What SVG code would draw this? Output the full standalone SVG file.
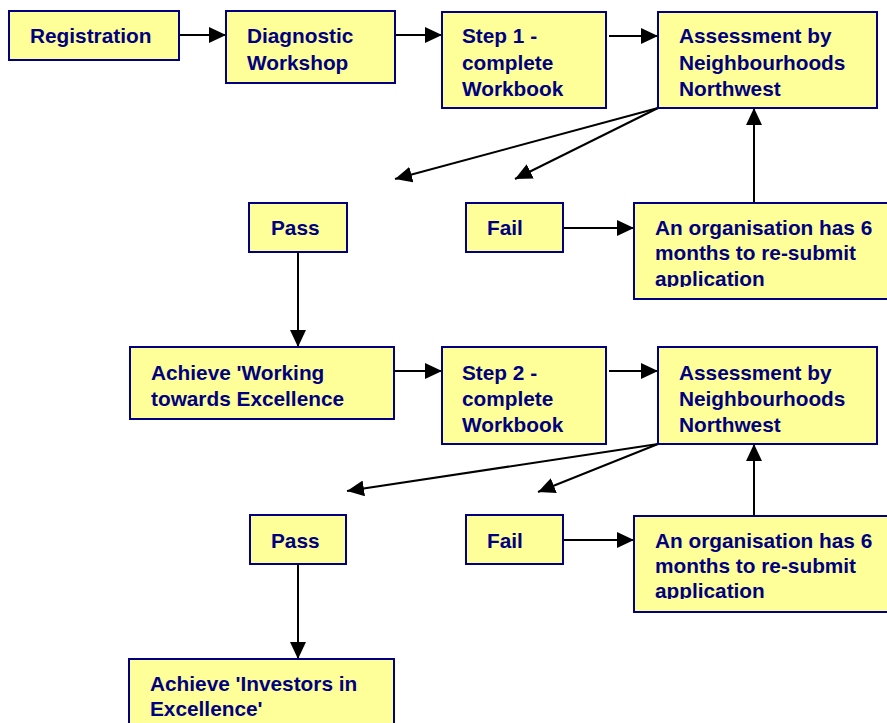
<svg xmlns="http://www.w3.org/2000/svg" width="887" height="723" viewBox="0 0 887 723">
  <style>
    .box { fill: #FFFF99; stroke: #000080; stroke-width: 2; }
    .lbl { font-family: "Liberation Sans", Arial, sans-serif; font-weight: bold; font-size: 20.8px; fill: #000080; }
    .wire { stroke: #000000; stroke-width: 2; fill: none; marker-end: url(#head); }
  </style>
  <defs>
    <marker id="head" markerUnits="userSpaceOnUse" markerWidth="17" markerHeight="16" refX="17" refY="8" orient="auto">
      <path d="M0,0 L17,8 L0,16 Z" fill="#000000"/>
    </marker>
    <clipPath id="clipResub1"><rect x="634" y="203" width="270" height="84"/></clipPath>
    <clipPath id="clipResub2"><rect x="634" y="516" width="270" height="83"/></clipPath>
  </defs>
  <rect x="0" y="0" width="887" height="723" fill="#FFFFFF"/>

  <!-- connectors -->
  <g id="connectors">
    <line class="wire" x1="179" y1="35" x2="226" y2="35"/>
    <line class="wire" x1="395" y1="35" x2="442" y2="35"/>
    <line class="wire" x1="609" y1="36" x2="658" y2="36"/>
    <line class="wire" x1="658" y1="108" x2="395" y2="179"/>
    <line class="wire" x1="658" y1="108" x2="515" y2="179"/>
    <line class="wire" x1="754" y1="203" x2="754" y2="108"/>
    <line class="wire" x1="563" y1="228" x2="634" y2="228"/>
    <line class="wire" x1="298" y1="252" x2="298" y2="347"/>
    <line class="wire" x1="394" y1="371" x2="442" y2="371"/>
    <line class="wire" x1="609" y1="371" x2="658" y2="371"/>
    <line class="wire" x1="658" y1="444" x2="347" y2="491"/>
    <line class="wire" x1="658" y1="444" x2="538" y2="492"/>
    <line class="wire" x1="754" y1="516" x2="754" y2="444"/>
    <line class="wire" x1="563" y1="540" x2="634" y2="540"/>
    <line class="wire" x1="298" y1="564" x2="298" y2="659"/>
  </g>

  <!-- stage one -->
  <g id="registration">
    <rect class="box" x="9" y="11" width="170" height="49"/>
    <text class="lbl" x="30" y="43">Registration</text>
  </g>
  <g id="diagnostic">
    <rect class="box" x="226" y="11" width="169" height="72"/>
    <text class="lbl" x="247" y="43">Diagnostic</text>
    <text class="lbl" x="247" y="70">Workshop</text>
  </g>
  <g id="step1">
    <rect class="box" x="442" y="12" width="164" height="96"/>
    <text class="lbl" x="462" y="43">Step 1 -</text>
    <text class="lbl" x="462" y="70">complete</text>
    <text class="lbl" x="462" y="96">Workbook</text>
  </g>
  <g id="assessment1">
    <rect class="box" x="658" y="12" width="219" height="96"/>
    <text class="lbl" x="679" y="43">Assessment by</text>
    <text class="lbl" x="679" y="70">Neighbourhoods</text>
    <text class="lbl" x="679" y="96">Northwest</text>
  </g>
  <g id="pass1">
    <rect class="box" x="249" y="203" width="98" height="49"/>
    <text class="lbl" x="271" y="235">Pass</text>
  </g>
  <g id="fail1">
    <rect class="box" x="466" y="203" width="97" height="49"/>
    <text class="lbl" x="487" y="235">Fail</text>
  </g>
  <g id="resubmit1">
    <rect class="box" x="634" y="203" width="270" height="96"/>
    <g clip-path="url(#clipResub1)">
      <text class="lbl" x="655" y="235">An organisation has 6</text>
      <text class="lbl" x="655" y="260">months to re-submit</text>
      <text class="lbl" x="655" y="286">application</text>
    </g>
  </g>

  <!-- stage two -->
  <g id="working-towards">
    <rect class="box" x="130" y="347" width="264" height="72"/>
    <text class="lbl" x="151" y="380">Achieve 'Working</text>
    <text class="lbl" x="151" y="406">towards Excellence</text>
  </g>
  <g id="step2">
    <rect class="box" x="442" y="347" width="164" height="97"/>
    <text class="lbl" x="462" y="380">Step 2 -</text>
    <text class="lbl" x="462" y="406">complete</text>
    <text class="lbl" x="462" y="432">Workbook</text>
  </g>
  <g id="assessment2">
    <rect class="box" x="658" y="347" width="219" height="97"/>
    <text class="lbl" x="679" y="380">Assessment by</text>
    <text class="lbl" x="679" y="406">Neighbourhoods</text>
    <text class="lbl" x="679" y="432">Northwest</text>
  </g>
  <g id="pass2">
    <rect class="box" x="250" y="515" width="96" height="49"/>
    <text class="lbl" x="271" y="548">Pass</text>
  </g>
  <g id="fail2">
    <rect class="box" x="466" y="515" width="97" height="49"/>
    <text class="lbl" x="487" y="548">Fail</text>
  </g>
  <g id="resubmit2">
    <rect class="box" x="634" y="516" width="270" height="96"/>
    <g clip-path="url(#clipResub2)">
      <text class="lbl" x="655" y="548">An organisation has 6</text>
      <text class="lbl" x="655" y="573">months to re-submit</text>
      <text class="lbl" x="655" y="598">application</text>
    </g>
  </g>
  <g id="investors">
    <rect class="box" x="129" y="659" width="265" height="90"/>
    <text class="lbl" x="150" y="691">Achieve 'Investors in</text>
    <text class="lbl" x="150" y="716">Excellence'</text>
  </g>
</svg>
